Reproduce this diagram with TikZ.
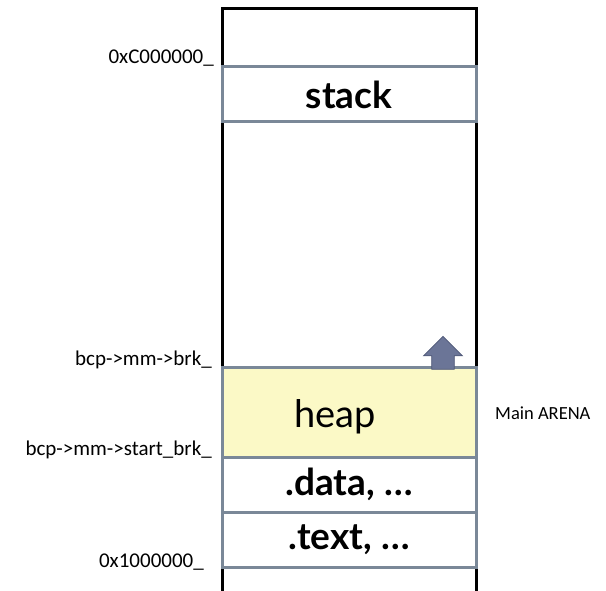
\documentclass[tikz,border=0pt]{standalone}
\usepackage{fontspec}
\setmainfont{Carlito}
\newfontfamily\segfont{Lato}
\usetikzlibrary{positioning,shapes.arrows}

\definecolor{segline}{HTML}{7A8898}
\definecolor{heapfill}{HTML}{FBF9C6}
\definecolor{growfill}{HTML}{6B7597}
\definecolor{growline}{HTML}{4F5877}

\begin{document}
\begin{tikzpicture}[x=1pt, y=-1pt,
	seg/.style={draw=segline, line width=3pt, minimum width=254pt, inner sep=0pt, outer sep=0pt, font=\segfont\fontsize{37}{37}\selectfont\bfseries},
	addr/.style={anchor=base east, inner sep=0pt, font=\fontsize{21}{21}\selectfont}]
	\useasboundingbox (0,0) rectangle (606,591);

	\draw[line width=3pt] (222,591) -- (222,9) -- (476,9) -- (476,591);

	\node[seg, minimum height=55pt]                (stack) at (349,94.5) {stack};
	\node[seg, minimum height=90pt, fill=heapfill] (heap)  at (349,412)  {};
	\node[seg, minimum height=55pt] (data) [below=0pt of heap] {.data, \ldots};
	\node[seg, minimum height=55pt] (text) [below=0pt of data] {.text, \ldots};
	\node[anchor=base, inner sep=0pt, font=\segfont\fontsize{38}{38}\selectfont] (heaplbl) at (335,427) {heap};

	\node[single arrow, shape border rotate=90, fill=growfill, draw=growline, line width=0.8pt,
		minimum width=39pt, minimum height=33pt, inner sep=9.5pt] (grow) at (443,358.5) {};

	\node[addr] (top)   at (214,64)  {0xC000000\_};
	\node[addr] (brk)   at (212,365) {bcp->mm->brk\_};
	\node[addr] (start) at (212,455) {bcp->mm->start\_brk\_};
	\node[addr] (base)  at (204,567) {0x1000000\_};

	\node[anchor=base west, inner sep=0pt, font=\fontsize{18.5}{18.5}\selectfont] (arena) at (495,419) {Main ARENA};
\end{tikzpicture}
\end{document}
